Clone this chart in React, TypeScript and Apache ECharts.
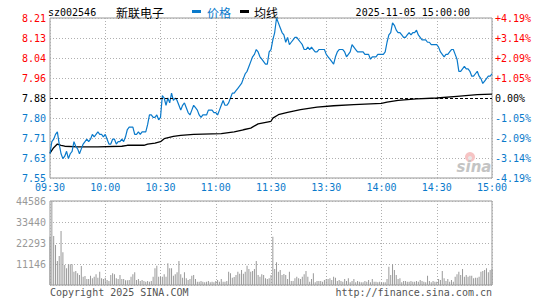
import React, { useEffect, useRef } from 'react';
import * as echarts from 'echarts';

const stockCode = 'sz002546';
const stockName = '新联电子';
const dateText = '2025-11-05 15:00:00';
const timeLabels = ['09:30', '10:00', '10:30', '11:00', '11:30', '13:30', '14:00', '14:30', '15:00'];
const priceLabels = ['7.55', '7.63', '7.71', '7.80', '7.88', '7.96', '8.04', '8.13', '8.21'];
const pctLabels = ['-4.19%', '-3.14%', '-2.09%', '-1.05%', '0.00%', '+1.05%', '+2.09%', '+3.14%', '+4.19%'];
const volLabels = ['', '11146', '22293', '33440', '44586'];
const prevClose = 7.88;

// per-minute price (index = minutes since 09:30, trading minutes only)
const prices = [
  7.65, 7.70, 7.71, 7.73, 7.74, 7.69, 7.65, 7.63, 7.64, 7.66,
  7.63, 7.65, 7.66, 7.70, 7.68, 7.67, 7.65, 7.67, 7.69, 7.70,
  7.71, 7.70, 7.71, 7.73, 7.72, 7.73, 7.74, 7.73, 7.73, 7.72,
  7.73, 7.71, 7.69, 7.69, 7.71, 7.71, 7.69, 7.70, 7.70, 7.71,
  7.70, 7.72, 7.75, 7.76, 7.76, 7.76, 7.73, 7.73, 7.74, 7.73,
  7.74, 7.74, 7.74, 7.77, 7.81, 7.81, 7.80, 7.80, 7.81, 7.79,
  7.80, 7.89, 7.88, 7.85, 7.88, 7.86, 7.90, 7.87, 7.88, 7.87,
  7.85, 7.83, 7.85, 7.86, 7.84, 7.82, 7.81, 7.83, 7.85, 7.84,
  7.83, 7.81, 7.80, 7.81, 7.81, 7.81, 7.83, 7.83, 7.83, 7.82,
  7.82, 7.81, 7.83, 7.85, 7.87, 7.85, 7.85, 7.86, 7.88, 7.90,
  7.90, 7.91, 7.92, 7.93, 7.94, 7.96, 7.98, 7.99, 8.01, 8.03,
  8.05, 8.06, 8.08, 8.07, 8.05, 8.04, 8.03, 8.02, 8.02, 8.07,
  8.08, 8.12, 8.15, 8.21, 8.19, 8.17, 8.15, 8.14, 8.11, 8.13,
  8.10, 8.11, 8.12, 8.13, 8.13, 8.12, 8.11, 8.10, 8.08, 8.08,
  8.09, 8.08, 8.09, 8.08, 8.07, 8.07, 8.08, 8.08, 8.08, 8.08,
  8.06, 8.05, 8.04, 8.03, 8.02, 8.05, 8.07, 8.08, 8.08, 8.08,
  8.07, 8.05, 8.06, 8.07, 8.10, 8.09, 8.08, 8.07, 8.07, 8.07,
  8.07, 8.06, 8.06, 8.06, 8.04, 8.05, 8.05, 8.05, 8.06, 8.06,
  8.06, 8.06, 8.07, 8.11, 8.14, 8.15, 8.19, 8.18, 8.16, 8.15,
  8.15, 8.14, 8.13, 8.13, 8.14, 8.15, 8.14, 8.15, 8.15, 8.16,
  8.14, 8.13, 8.12, 8.12, 8.12, 8.11, 8.11, 8.10, 8.10, 8.10,
  8.10, 8.09, 8.07, 8.06, 8.05, 8.06, 8.06, 8.07, 8.08, 8.08,
  8.06, 8.04, 7.99, 7.99, 8.00, 8.01, 8.00, 8.00, 7.99, 7.97,
  7.97, 7.98, 7.99, 7.97, 7.96, 7.94, 7.95, 7.96, 7.97, 7.97,
  7.98,
];

const avgMinutes = [0, 2, 4, 6, 8, 15, 26, 39, 42, 51, 53, 57, 60, 62, 67, 71, 78, 93, 100, 105, 109, 113, 120, 121, 124, 129, 136, 145, 154, 165, 180, 183, 189, 199, 210, 221, 232, 240];
const avgValues = [7.653, 7.675, 7.69, 7.685, 7.681, 7.678, 7.678, 7.681, 7.685, 7.685, 7.69, 7.694, 7.70, 7.712, 7.722, 7.726, 7.73, 7.733, 7.74, 7.749, 7.756, 7.773, 7.784, 7.797, 7.811, 7.821, 7.832, 7.842, 7.848, 7.853, 7.858, 7.863, 7.87, 7.876, 7.88, 7.887, 7.894, 7.896];

const volumes = [
  25650, 44586, 26000, 21230, 12740, 15390, 28660, 17340, 10610, 8850,
  10970, 10970, 10970, 7080, 7430, 6190, 5310, 10080, 4420, 4780,
  3180, 3180, 4950, 3540, 4420, 5660, 3890, 7080, 3540, 3180,
  3890, 2650, 2120, 5310, 6190, 5660, 3540, 3180, 5310, 3180,
  3180, 2480, 2480, 2650, 4420, 5660, 6720, 2650, 3180, 2120,
  2650, 2120, 1770, 2120, 1770, 2120, 4420, 8850, 10260, 4420,
  4420, 4420, 5660, 4420, 11500, 8850, 8850, 4950, 5660, 6720,
  12740, 5660, 3890, 6720, 3540, 2650, 3180, 4950, 5310, 3180,
  1770, 1770, 2120, 1770, 1420, 1770, 2120, 1420, 1770, 1420,
  2120, 2650, 1770, 3180, 1770, 1770, 2120, 7080, 6190, 3890,
  4250, 5310, 7080, 6020, 7960, 6020, 7080, 10260, 8490, 7080,
  7430, 8490, 12740, 5310, 4420, 5660, 5310, 3540, 3180, 3540,
  5310,
  25650, 8490, 12030, 7080, 7960, 5310, 5840, 5310, 3180, 7080,
  2120, 2120, 3540, 4420, 3540, 3180, 4420, 5660, 7430, 4420,
  1770, 3180, 6190, 1420, 2120, 2120, 2120, 1770, 2650, 3180,
  3180, 3540, 2650, 4420, 3890, 2120, 2650, 2120, 1770, 3180,
  2120, 3540, 1420, 2120, 3180, 1420, 2120, 1770, 1420, 1420,
  2120, 1770, 2650, 1420, 3180, 1770, 1770, 1420, 1770, 1420,
  1420, 1420, 3180, 9730, 5310, 10970, 7960, 5310, 3180, 3540,
  1420, 2120, 2120, 1770, 1770, 2120, 1770, 1770, 2120, 1770,
  2650, 2120, 1770, 1420, 4950, 2120, 1420, 2120, 1770, 1770,
  3180, 2650, 7430, 3540, 2120, 3180, 1770, 2650, 1770, 4420,
  5660, 7080, 5310, 8490, 4420, 5310, 4420, 4950, 4950, 3540,
  3890, 3890, 4420, 7080, 7430, 7960, 8850, 6720, 7960, 8490,
];

const MONO = '"DejaVu Sans Mono", monospace';
const CJK = '"Noto Sans CJK SC", sans-serif';
const BLUE = '#0a7acb';
const RED = '#ff0000';
const GRID_C = '#b0b0b0';
const FRAME = '#999999';

export default function App() {
  const ref = useRef<HTMLDivElement>(null);
  useEffect(() => {
    const chart = echarts.init(ref.current!, null, { renderer: 'svg' });
    const pMin = Number(priceLabels[0]);
    const pMax = Number(priceLabels[priceLabels.length - 1]);
    const pStep = (pMax - pMin) / (priceLabels.length - 1);
    const pctMax = Number(pctLabels[pctLabels.length - 1].replace('%', ''));
    const pctStep = (2 * pctMax) / (pctLabels.length - 1);
    const vMax = Number(volLabels[volLabels.length - 1]);
    const vStep = vMax / (volLabels.length - 1);
    const mid = (priceLabels.length - 1) / 2;
    const levelColor = (i: number) => (i < mid ? BLUE : i > mid ? RED : '#000');
    const splitColors = priceLabels.map((_, i) => (i === mid ? 'rgba(0,0,0,0)' : GRID_C));

    const xBase = {
      type: 'value',
      min: 0,
      max: 240,
      interval: 30,
      axisLine: { show: false },
      axisTick: { show: false },
      splitLine: { show: true, lineStyle: { color: GRID_C, type: [1, 2], width: 1 } },
    };

    chart.setOption({
      animation: false,
      backgroundColor: '#ffffff',
      grid: [
        { left: 50, top: 18, width: 442, height: 160, show: true, borderColor: FRAME, borderWidth: 1 },
        { left: 50, top: 201, width: 442, height: 84, show: true, borderColor: FRAME, borderWidth: 1 },
      ],
      xAxis: [
        {
          ...xBase,
          gridIndex: 0,
          axisLabel: {
            show: true,
            color: BLUE,
            fontFamily: MONO,
            fontSize: 10,
            margin: 4,
            showMinLabel: true,
            showMaxLabel: true,
            formatter: (v: number) => timeLabels[Math.round(v / 30)] ?? '',
          },
        },
        { ...xBase, gridIndex: 1, axisLabel: { show: false } },
      ],
      yAxis: [
        {
          type: 'value',
          gridIndex: 0,
          position: 'left',
          min: pMin,
          max: pMax,
          interval: pStep,
          axisLine: { show: false },
          axisTick: { show: false },
          splitLine: { show: true, lineStyle: { color: splitColors, type: [1, 2], width: 1 } },
          axisLabel: {
            fontFamily: MONO,
            fontSize: 10,
            margin: 4,
            showMinLabel: true,
            showMaxLabel: true,
            formatter: (v: number) => priceLabels[Math.round((v - pMin) / pStep)] ?? '',
            color: (v: any) => levelColor(Math.round((Number(v) - pMin) / pStep)),
          },
        },
        {
          type: 'value',
          gridIndex: 0,
          position: 'right',
          min: -pctMax,
          max: pctMax,
          interval: pctStep,
          axisLine: { show: false },
          axisTick: { show: false },
          splitLine: { show: false },
          axisLabel: {
            fontFamily: MONO,
            fontSize: 10,
            margin: 3,
            showMinLabel: true,
            showMaxLabel: true,
            formatter: (v: number) => pctLabels[Math.round((v + pctMax) / pctStep)] ?? '',
            color: (v: any) => levelColor(Math.round((Number(v) + pctMax) / pctStep)),
          },
        },
        {
          type: 'value',
          gridIndex: 1,
          position: 'left',
          min: 0,
          max: vMax,
          interval: vStep,
          axisLine: { show: false },
          axisTick: { show: false },
          splitLine: { show: true, lineStyle: { color: GRID_C, type: [1, 2], width: 1 } },
          axisLabel: {
            fontFamily: MONO,
            fontSize: 10,
            margin: 4,
            color: '#999999',
            showMinLabel: true,
            showMaxLabel: true,
            formatter: (v: number) => volLabels[Math.round(v / vStep)] ?? '',
          },
        },
      ],
      series: [
        {
          type: 'line',
          name: '均线',
          xAxisIndex: 0,
          yAxisIndex: 0,
          data: avgMinutes.map((m, i) => [m, avgValues[i]]),
          showSymbol: false,
          symbol: 'none',
          lineStyle: { color: '#000000', width: 1.3 },
          z: 3,
          markLine: {
            silent: true,
            symbol: 'none',
            label: { show: false },
            lineStyle: { color: '#000000', type: [3, 2], width: 1 },
            data: [{ yAxis: prevClose }],
          },
        },
        {
          type: 'line',
          name: '价格',
          xAxisIndex: 0,
          yAxisIndex: 0,
          data: prices.map((p, i) => [i, p]),
          showSymbol: false,
          symbol: 'none',
          lineStyle: { color: BLUE, width: 1.2 },
          z: 4,
        },
        {
          type: 'bar',
          xAxisIndex: 1,
          yAxisIndex: 2,
          data: volumes.map((v, i) => [i, v]),
          barWidth: 1,
          itemStyle: { color: '#999999' },
        },
      ],
      graphic: [
        { type: 'text', x: 48, y: 12, style: { text: stockCode, font: `10px ${MONO}`, fill: '#000', align: 'left', verticalAlign: 'middle' } },
        { type: 'text', x: 116, y: 12, style: { text: stockName, font: `12px ${CJK}`, fill: '#000', align: 'left', verticalAlign: 'middle' } },
        { type: 'rect', shape: { x: 192, y: 10, width: 9, height: 3 }, style: { fill: BLUE } },
        { type: 'text', x: 207, y: 12, style: { text: '价格', font: `12px ${CJK}`, fill: BLUE, align: 'left', verticalAlign: 'middle' } },
        { type: 'rect', shape: { x: 240, y: 10, width: 9, height: 3 }, style: { fill: '#000' } },
        { type: 'text', x: 254, y: 12, style: { text: '均线', font: `12px ${CJK}`, fill: '#000', align: 'left', verticalAlign: 'middle' } },
        { type: 'text', x: 470, y: 12, style: { text: dateText, font: `10px ${MONO}`, fill: '#000', align: 'right', verticalAlign: 'middle' } },
        { type: 'text', x: 50, y: 292, style: { text: 'Copyright 2025 SINA.COM', font: `10px ${MONO}`, fill: '#555', align: 'left', verticalAlign: 'middle' } },
        { type: 'text', x: 492, y: 292, style: { text: 'http://finance.sina.com.cn', font: `10px ${MONO}`, fill: '#555', align: 'right', verticalAlign: 'middle' } },
        { type: 'circle', shape: { cx: 470, cy: 157, r: 5 }, style: { fill: '#f6c4c4' }, z: 1 },
        { type: 'circle', shape: { cx: 470, cy: 158, r: 2 }, style: { fill: '#e8e8e8' }, z: 1 },
        { type: 'text', x: 474, y: 167, style: { text: 'sina', font: 'italic bold 15px "DejaVu Sans", sans-serif', fill: '#c4c4c4', align: 'center', verticalAlign: 'middle' }, z: 1 },
      ],
    });
    return () => chart.dispose();
  }, []);
  return (
    <div
      ref={ref}
      style={{ position: 'fixed', left: 0, top: 0, width: 545, height: 300, background: '#fff' }}
    />
  );
}
